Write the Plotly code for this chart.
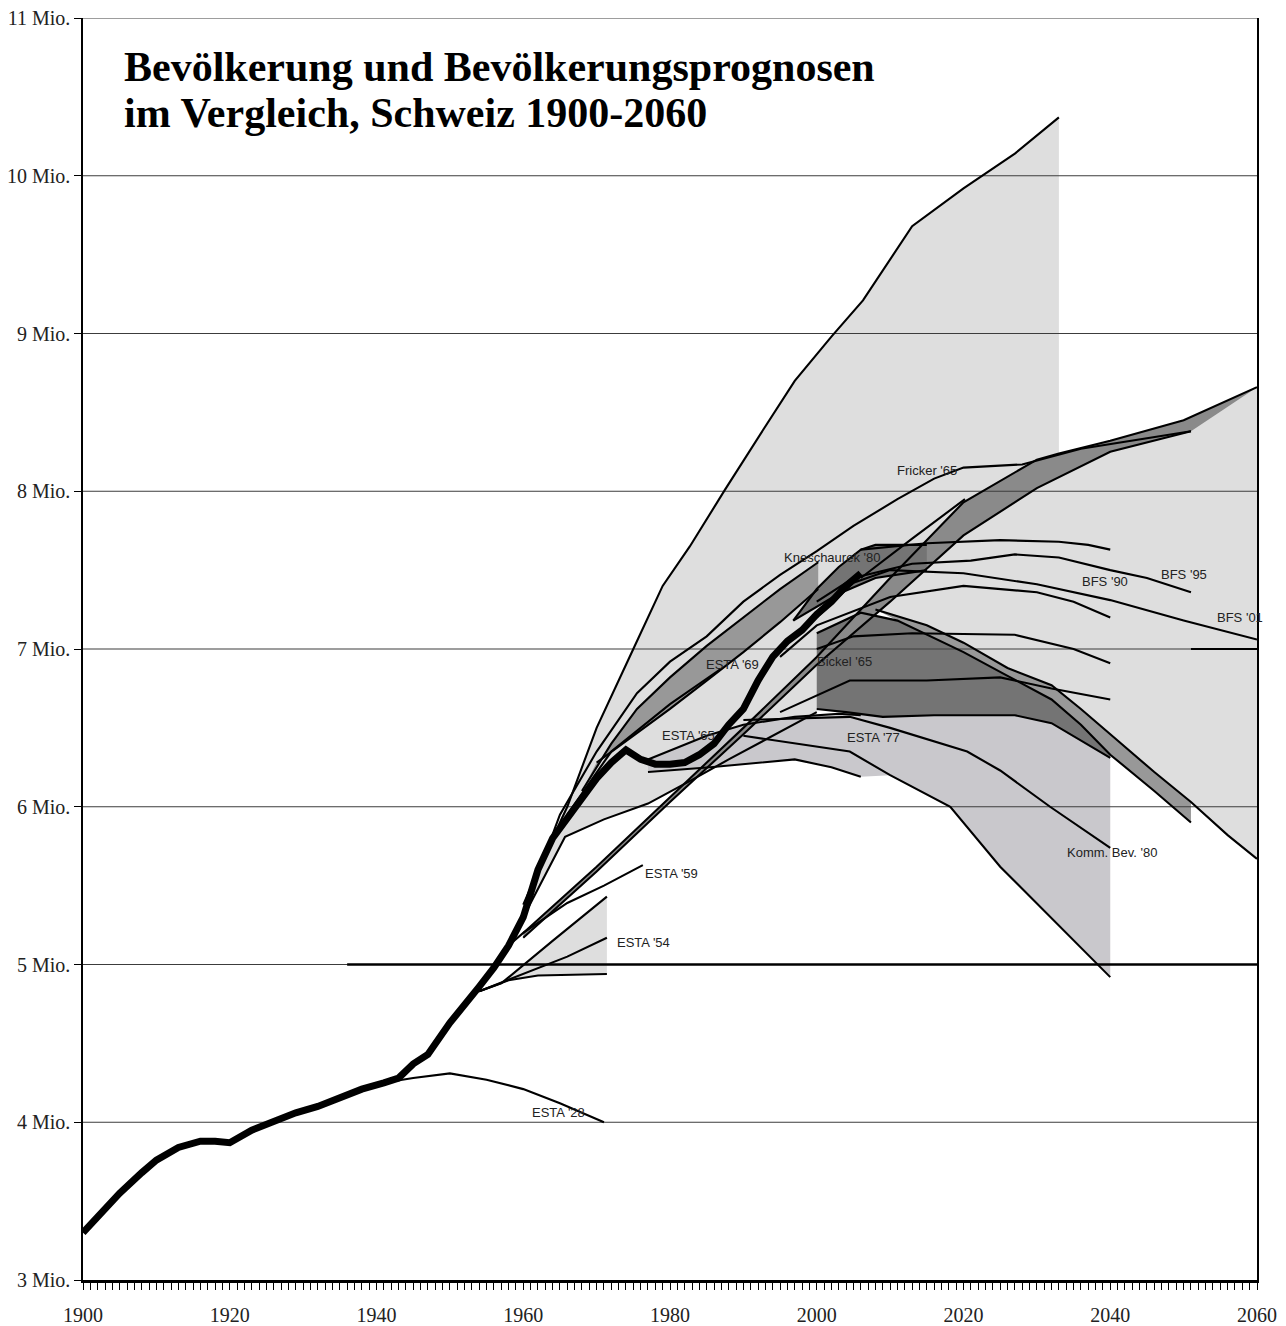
import plotly.graph_objects as go

# observed population, Mio.
hist_years = [1900, 1902, 1905, 1908, 1910, 1913, 1916, 1918, 1920, 1923, 1926, 1929, 1932, 1935,
              1938, 1941, 1943, 1945, 1947, 1950, 1952, 1954, 1956, 1958, 1960, 1962, 1964, 1966,
              1968, 1970, 1972, 1974, 1976, 1978, 1980, 1982, 1984, 1986, 1988, 1990, 1992, 1994,
              1996, 1998, 2000, 2002, 2004, 2006]
hist_pop = [3.30, 3.40, 3.55, 3.68, 3.76, 3.84, 3.88, 3.88, 3.87, 3.95, 4.01, 4.06, 4.10, 4.16,
            4.21, 4.25, 4.28, 4.37, 4.43, 4.63, 4.74, 4.86, 4.98, 5.12, 5.30, 5.60, 5.80, 5.93,
            6.06, 6.18, 6.28, 6.36, 6.30, 6.27, 6.27, 6.28, 6.33, 6.40, 6.52, 6.62, 6.80, 6.95,
            7.05, 7.12, 7.22, 7.30, 7.40, 7.48]

# forecasts (years / Mio.)
esta28_x = [1941, 1945, 1950, 1955, 1960, 1965, 1971]
esta28_v = [4.25, 4.28, 4.31, 4.27, 4.21, 4.12, 4.00]

flat5_x = [1936, 2060]
flat5_v = [5.0, 5.0]

esta54_hi_x = [1954, 1957, 1964, 1971.4]
esta54_hi_v = [4.83, 4.88, 5.15, 5.43]
esta54_mid_x = [1954, 1960, 1966, 1971.4]
esta54_mid_v = [4.83, 4.94, 5.05, 5.17]
esta54_lo_x = [1954, 1958, 1962, 1971.4]
esta54_lo_v = [4.83, 4.90, 4.93, 4.94]

esta59_x = [1958, 1960, 1966, 1971, 1976.3]
esta59_v = [5.12, 5.20, 5.39, 5.50, 5.63]

diag_hi_x = [1960, 1970, 1980, 1990, 2000, 2010, 2020, 2030, 2033, 2040, 2050, 2060]
diag_hi_v = [5.20, 5.62, 6.06, 6.50, 6.95, 7.45, 7.93, 8.20, 8.24, 8.32, 8.45, 8.66]
diag_lo_x = [1960, 1970, 1980, 1990, 2000, 2010, 2020, 2030, 2040, 2051]
diag_lo_v = [5.17, 5.59, 6.03, 6.46, 6.90, 7.30, 7.72, 8.02, 8.25, 8.38]

fricker_hi_x = [1960, 1963, 1966, 1970, 1975, 1979, 1982.7, 1987.5, 1992.7, 1997, 2002, 2006.3,
                2013, 2020, 2027, 2033]
fricker_hi_v = [5.38, 5.70, 6.00, 6.50, 7.00, 7.40, 7.65, 8.01, 8.39, 8.70, 8.98, 9.21,
                9.68, 9.92, 10.14, 10.37]
fricker_mid_x = [1961, 1965, 1970, 1975.5, 1980, 1985, 1990, 1995, 2000, 2005, 2011, 2016,
                 2020, 2028, 2036, 2044, 2051]
fricker_mid_v = [5.45, 5.95, 6.35, 6.72, 6.92, 7.08, 7.30, 7.47, 7.62, 7.78, 7.95, 8.08,
                 8.15, 8.17, 8.27, 8.33, 8.38]

esta65_lo_x = [1960, 1965.7, 1971, 1977, 1983, 1988, 2000]
esta65_lo_v = [5.30, 5.81, 5.92, 6.02, 6.17, 6.30, 6.60]
esta65_hi_x = [1966, 1972, 1980, 1986.8]
esta65_hi_v = [5.95, 6.35, 6.65, 6.87]

esta69_hi_x = [1968, 1972, 1975.5, 1980, 1985, 1990, 1995, 2000.2]
esta69_hi_v = [6.10, 6.40, 6.62, 6.82, 7.02, 7.20, 7.38, 7.55]
esta69_lo_x = [1970, 1975, 1980, 1985, 1990, 1995, 2000.2]
esta69_lo_v = [6.28, 6.45, 6.62, 6.80, 6.98, 7.17, 7.38]

knesch_hi_x = [1996.8, 2000, 2003, 2006, 2008, 2015]
knesch_hi_v = [7.18, 7.38, 7.52, 7.63, 7.66, 7.66]
knesch_lo_x = [1996.8, 2003, 2008, 2015]
knesch_lo_v = [7.18, 7.35, 7.45, 7.50]
knesch_top_x = [2006, 2015, 2025, 2033, 2037, 2040]
knesch_top_v = [7.63, 7.67, 7.69, 7.68, 7.66, 7.63]
short_x = [2006, 2013, 2020.2]
short_v = [7.45, 7.70, 7.95]

bfs95_x = [2000, 2005, 2013, 2021, 2027, 2033, 2040, 2045, 2051]
bfs95_v = [7.30, 7.45, 7.54, 7.56, 7.60, 7.58, 7.50, 7.45, 7.36]
bfs01_x = [2000, 2005, 2010, 2020, 2030, 2040, 2050, 2060]
bfs01_v = [7.20, 7.42, 7.50, 7.48, 7.41, 7.31, 7.18, 7.06]
bfs01_low_x = [2008, 2015, 2020, 2026, 2032, 2036, 2041, 2046, 2051, 2056, 2060]
bfs01_low_v = [7.25, 7.15, 7.04, 6.88, 6.77, 6.62, 6.42, 6.22, 6.03, 5.82, 5.67]
bfs01_flat_x = [2051, 2060]
bfs01_flat_v = [7.0, 7.0]
bfs90_x = [1995, 2000, 2010, 2020, 2030, 2035, 2040]
bfs90_v = [6.95, 7.15, 7.33, 7.40, 7.36, 7.30, 7.20]
bfs90_lo_x = [2000, 2005, 2013, 2027, 2035, 2040]
bfs90_lo_v = [7.00, 7.08, 7.10, 7.09, 7.00, 6.91]
var_x = [1995, 2004.5, 2015, 2025, 2032, 2040]
var_v = [6.60, 6.80, 6.80, 6.82, 6.75, 6.68]

bickel_hi_x = [2000, 2006, 2011, 2020, 2026, 2032, 2036, 2040, 2046, 2051]
bickel_hi_v = [7.10, 7.23, 7.18, 6.98, 6.83, 6.68, 6.52, 6.33, 6.10, 5.90]
bickel_lo_x = [2000, 2004, 2009, 2016, 2027, 2032, 2040]
bickel_lo_v = [6.62, 6.60, 6.57, 6.58, 6.58, 6.53, 6.31]

esta77_hi_x = [1977, 1985, 1990, 1997, 2003, 2006]
esta77_hi_v = [6.30, 6.45, 6.52, 6.57, 6.59, 6.58]
esta77_lo_x = [1977, 1985.5, 1997, 2002, 2006]
esta77_lo_v = [6.22, 6.25, 6.30, 6.25, 6.19]

komm_mid_x = [1990, 2004.5, 2010, 2020.5, 2025, 2031.8, 2040]
komm_mid_v = [6.55, 6.57, 6.50, 6.35, 6.23, 6.00, 5.74]
komm_lo_x = [1990, 2004.5, 2010, 2018.2, 2025, 2031.8, 2040]
komm_lo_v = [6.45, 6.35, 6.20, 6.00, 5.62, 5.30, 4.92]

y_ticks = [3, 4, 5, 6, 7, 8, 9, 10, 11]
y_labels = [f"{v} Mio." for v in y_ticks]
x_ticks = [1900, 1920, 1940, 1960, 1980, 2000, 2020, 2040, 2060]

labels = [
    ("Fricker '65", 2010.7, 8.13),
    ("Kneschaurek '80", 1995.3, 7.58),
    ("BFS '95", 2046.6, 7.47),
    ("BFS '90", 2035.9, 7.43),
    ("BFS '01", 2054.3, 7.20),
    ("ESTA '69", 1984.6, 6.90),
    ("Bickel '65", 1999.8, 6.92),
    ("ESTA '65", 1978.6, 6.45),
    ("ESTA '77", 2003.9, 6.44),
    ("ESTA '59", 1976.3, 5.58),
    ("ESTA '54", 1972.5, 5.14),
    ("ESTA '28", 1960.9, 4.06),
    ("Komm. Bev. '80", 2033.8, 5.71),
]

LIGHT = "#dedede"
LAV = "#c9c8cc"
MID = "#989898"
DARK = "#747474"

fig = go.Figure()


def band(tx, tv, bx, bv, color):
    fig.add_trace(go.Scatter(x=list(tx) + list(bx)[::-1], y=list(tv) + list(bv)[::-1],
                             mode="lines", fill="toself", fillcolor=color,
                             line=dict(width=0, color=color), hoverinfo="skip"))


def line(xs, vs, width=2.1):
    fig.add_trace(go.Scatter(x=xs, y=vs, mode="lines",
                             line=dict(color="black", width=width), hoverinfo="skip"))


# big light range: Fricker high + BFS '01 range
k = diag_hi_x.index(2033)
top_x = fricker_hi_x + diag_hi_x[k:]
top_v = fricker_hi_v + diag_hi_v[k:]
bot_x = esta65_lo_x + bfs01_low_x
bot_v = esta65_lo_v + bfs01_low_v
band(top_x, top_v, bot_x, bot_v, LIGHT)

band(esta54_hi_x, esta54_hi_v, esta54_lo_x, esta54_lo_v, LIGHT)

# lavender: ESTA '77 and Komm. Bev. '80
lav_top_x = esta77_hi_x[:-1] + bickel_lo_x[1:]
lav_top_v = esta77_hi_v[:-1] + bickel_lo_v[1:]
kk = [i for i, x in enumerate(komm_lo_x) if x >= 2006]
lav_bot_x = esta77_lo_x + [komm_lo_x[i] for i in kk]
lav_bot_v = esta77_lo_v + [komm_lo_v[i] for i in kk]
band(lav_top_x, lav_top_v, lav_bot_x, lav_bot_v, LAV)

# Bickel dark
band(bickel_hi_x[:8], bickel_hi_v[:8], bickel_lo_x, bickel_lo_v, DARK)
# medium band between BFS '01 low and Bickel high
band(bfs01_low_x[:9], bfs01_low_v[:9], bickel_hi_x[2:], bickel_hi_v[2:], MID)

band(esta69_hi_x, esta69_hi_v, esta69_lo_x, esta69_lo_v, MID)
band(diag_hi_x, diag_hi_v, diag_lo_x, diag_lo_v, "#8a8a8a")
band(knesch_hi_x, knesch_hi_v, knesch_lo_x, knesch_lo_v, DARK)

# grid lines over the fills
gx, gy = [], []
for v in y_ticks[1:]:
    gx += [1900, 2060, None]
    gy += [v, v, None]
fig.add_trace(go.Scatter(x=gx, y=gy, mode="lines", line=dict(color="#3c3c3c", width=1.2),
                         hoverinfo="skip", cliponaxis=False))

for xs, vs in [
    (esta28_x, esta28_v), (esta54_hi_x, esta54_hi_v), (esta54_mid_x, esta54_mid_v),
    (esta54_lo_x, esta54_lo_v), (esta59_x, esta59_v), (diag_hi_x, diag_hi_v),
    (diag_lo_x, diag_lo_v), (fricker_hi_x, fricker_hi_v), (fricker_mid_x, fricker_mid_v),
    (esta65_lo_x, esta65_lo_v), (esta65_hi_x, esta65_hi_v), (esta69_hi_x, esta69_hi_v),
    (esta69_lo_x, esta69_lo_v), (knesch_hi_x, knesch_hi_v), (knesch_lo_x, knesch_lo_v),
    (knesch_top_x, knesch_top_v), (short_x, short_v), (bfs95_x, bfs95_v), (bfs01_x, bfs01_v),
    (bfs01_low_x, bfs01_low_v), (bfs01_flat_x, bfs01_flat_v), (bfs90_x, bfs90_v),
    (bfs90_lo_x, bfs90_lo_v), (var_x, var_v), (bickel_hi_x, bickel_hi_v),
    (bickel_lo_x, bickel_lo_v), (esta77_hi_x, esta77_hi_v), (esta77_lo_x, esta77_lo_v),
    (komm_mid_x, komm_mid_v), (komm_lo_x, komm_lo_v),
]:
    line(xs, vs)
line(flat5_x, flat5_v, width=2.4)

# observed population
line(hist_years, hist_pop, width=7)

for text, x, y in labels:
    fig.add_annotation(x=x, y=y, text=text, showarrow=False, xanchor="left", yanchor="middle",
                       font=dict(family="Liberation Sans, Arial", size=13, color="#222"))

for i, t in enumerate(["Bevölkerung und Bevölkerungsprognosen",
                       "im Vergleich, Schweiz 1900-2060"]):
    fig.add_annotation(xref="paper", yref="paper", x=0.033, y=0.9615 - i * 0.0365,
                       text=f"<b>{t}</b>", showarrow=False, xanchor="left", yanchor="middle",
                       font=dict(family="Liberation Serif, Times New Roman", size=42, color="black"))

# the page body adds an 8 px offset, so the figure is sized to fit the window
fig.update_layout(
    width=1278, height=1318,
    margin=dict(l=75, r=29, t=10, b=46),
    plot_bgcolor="white", paper_bgcolor="white",
    showlegend=False,
    font=dict(family="Liberation Serif, Times New Roman", size=20, color="#222"),
)
fig.update_xaxes(range=[1900, 2060], tickvals=x_ticks, ticks="outside", ticklen=7,
                 tickcolor="black", showgrid=False, zeroline=False, automargin=False,
                 ticklabelstandoff=8, ticklabeloverflow="allow",
                 showline=True, linecolor="black", linewidth=2.5,
                 minor=dict(dtick=1, tick0=1900, ticks="outside", ticklen=7, tickcolor="black",
                            showgrid=False))
fig.update_yaxes(range=[3, 11], tickvals=y_ticks, ticktext=y_labels, ticks="outside", ticklen=7,
                 tickcolor="black", showgrid=False, zeroline=False, automargin=False,
                 ticklabeloverflow="allow",
                 showline=True, linecolor="black", linewidth=1.5, mirror=True)

fig.write_html("out.html")
